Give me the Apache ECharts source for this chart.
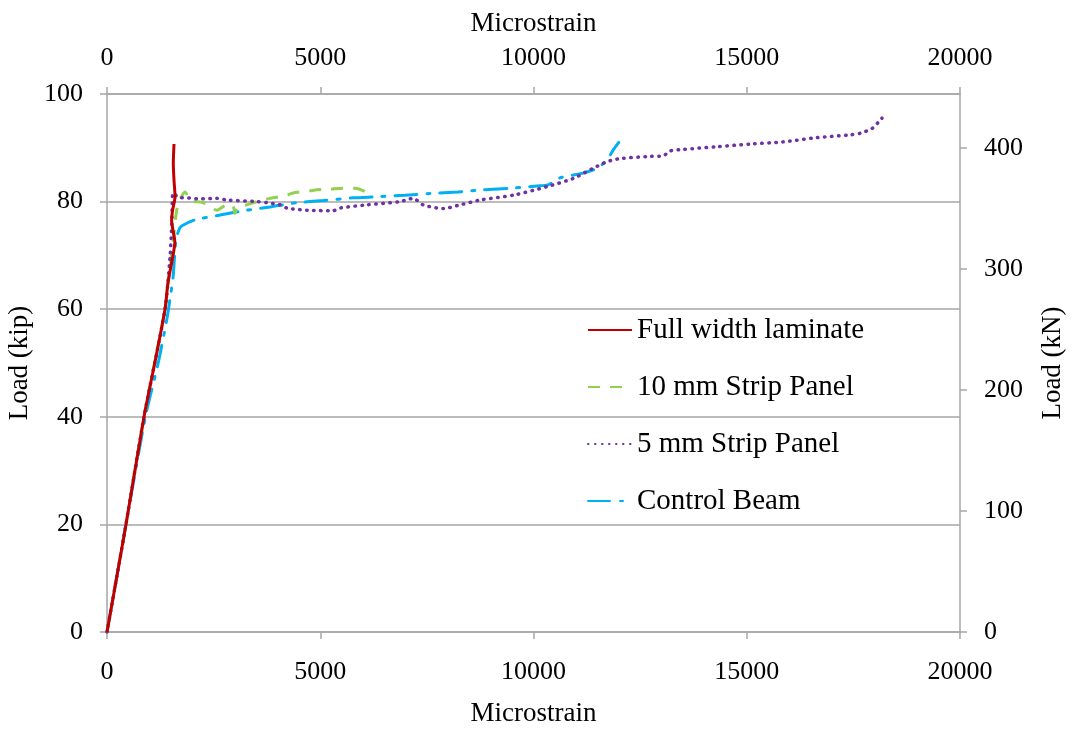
<!DOCTYPE html>
<html>
<head>
<meta charset="utf-8">
<script src="https://cdn.jsdelivr.net/npm/echarts@6/dist/echarts.min.js"></script>
<style>
html,body{margin:0;padding:0;background:#fff;}
#chart{width:1078px;height:729px;}
</style>
</head>
<body>
<div id="chart"></div>
<script>
// Data: [microstrain, load (kip)]
const seriesNames = ['Full width laminate', '10 mm Strip Panel', '5 mm Strip Panel', 'Control Beam'];

const fullWidth = [[0,0],[445,20],[868,40],[1120,50],[1360,60],[1430,65],[1515,68.6],[1590,72.5],[1540,75],[1515,76.5],[1538,78.4],[1595,80.9],[1571,84],[1555,87],[1571,90.7]];

const strip10 = [[0,0],[445,20],[868,40],[1360,60],[1480,68],[1570,74],[1650,79],[1830,81.8],[1950,80.2],[2250,79.8],[2580,78.4],[2810,79.4],[2950,79.3],[3000,77.8],[3050,79],[3280,79.4],[3520,80],[3820,80.6],[4220,81.2],[4360,81.6],[4760,82],[4920,82.2],[5230,82.3],[5530,82.5],[5820,82.5],[6100,81.7]];

const strip5 = [[0,0],[445,20],[868,40],[1360,60],[1480,70],[1520,76],[1550,81.6],[1710,80.7],[1870,80.7],[2180,80.5],[2580,80.6],[2810,80.3],[3520,80],[3750,79.8],[4060,79.4],[4220,78.8],[4700,78.4],[5300,78.3],[5460,78.8],[6100,79.4],[6870,80.0],[7180,80.6],[7410,79.4],[7880,78.7],[8280,79.4],[8750,80.3],[9530,81.2],[10320,82.8],[10930,84.3],[11400,86.2],[11720,87.4],[12030,88.0],[12730,88.4],[13040,88.5],[13200,89.4],[13510,89.7],[14300,90.2],[15080,90.7],[15850,91.1],[16650,91.9],[17420,92.4],[17660,92.7],[17940,93.6],[18080,94.7],[18170,95.5]];

const control = [[0,0],[445,20],[900,40],[1200,50],[1400,58],[1480,62],[1550,66],[1585,70],[1620,73],[1700,75],[1760,75.5],[2060,76.6],[2650,77.5],[3280,78.4],[3820,79],[4450,79.8],[5070,80.2],[5770,80.7],[6330,80.9],[6990,81.2],[7570,81.5],[8230,81.8],[8820,82.2],[9500,82.5],[10080,82.9],[10340,83.1],[10620,84.4],[11160,85.3],[11490,86.2],[11720,87.7],[11870,89.6],[12000,91]];

const xTicks = {min: 0, max: 20000, interval: 5000};
const kipTicks = {min: 0, max: 100, interval: 20};
const kNTicks = {min: 0, max: 444.82, interval: 100};

const FONT = 'Liberation Serif';
const axisColor = '#a6a6a6';
const textStyle = {fontFamily: FONT, fontSize: 26, color: '#000', formatter: v => String(v)};

const chart = echarts.init(document.getElementById('chart'), null, {renderer: 'canvas'});

function xAxisDef(pos) {
  const top = pos === 'top';
  return {
    type: 'value', position: pos,
    min: xTicks.min, max: xTicks.max, interval: xTicks.interval,
    name: 'Microstrain', nameLocation: 'middle', nameGap: top ? 57 : 68,
    nameTextStyle: {fontFamily: FONT, fontSize: 27, color: '#000'},
    axisLine: {show: true, onZero: false, lineStyle: {color: axisColor, width: 1.5}},
    axisTick: {show: true, inside: false, length: 7, lineStyle: {color: axisColor, width: 1.5}},
    axisLabel: Object.assign({margin: top ? 23 : 27}, textStyle),
    splitLine: {show: false}
  };
}

chart.setOption({
  animation: false,
  backgroundColor: '#fff',
  grid: {left: 107, right: 118, top: 94, bottom: 97, containLabel: false, outerBoundsMode: 'none'},
  legend: {
    orient: 'vertical', left: 582, top: 310,
    itemWidth: 44, itemHeight: 14, itemGap: 27,
    itemStyle: {color: 'transparent', borderColor: 'transparent', borderWidth: 0},
    textStyle: {fontFamily: FONT, fontSize: 29, color: '#000', lineHeight: 30},
    data: seriesNames
  },
  xAxis: [xAxisDef('bottom'), xAxisDef('top')],
  yAxis: [
    {
      type: 'value', position: 'left',
      min: kipTicks.min, max: kipTicks.max, interval: kipTicks.interval,
      name: 'Load (kip)', nameLocation: 'middle', nameGap: 72, nameRotate: 90,
      nameTextStyle: {fontFamily: FONT, fontSize: 27, color: '#000'},
      axisLine: {show: true, onZero: false, lineStyle: {color: axisColor, width: 1.5}},
      axisTick: {show: true, length: 7, lineStyle: {color: axisColor, width: 1.5}},
      axisLabel: Object.assign({margin: 24}, textStyle),
      splitLine: {show: true, lineStyle: {color: axisColor, width: 1.5}}
    },
    {
      type: 'value', position: 'right',
      min: kNTicks.min, max: kNTicks.max, interval: kNTicks.interval,
      name: 'Load (kN)', nameLocation: 'middle', nameGap: 79, nameRotate: 90,
      nameTextStyle: {fontFamily: FONT, fontSize: 27, color: '#000'},
      axisLine: {show: true, onZero: false, lineStyle: {color: axisColor, width: 1.5}},
      axisTick: {show: true, length: 7, lineStyle: {color: axisColor, width: 1.5}},
      axisLabel: Object.assign({margin: 24, showMaxLabel: false}, textStyle),
      splitLine: {show: false}
    }
  ],
  series: [
    {name: seriesNames[0], type: 'line', data: fullWidth, symbol: 'none', smooth: 0.25, z: 5,
     lineStyle: {color: '#C00000', width: 3}, itemStyle: {color: '#C00000'}},
    {name: seriesNames[1], type: 'line', data: strip10, symbol: 'none', smooth: 0.25, z: 3,
     lineStyle: {color: '#92D050', width: 3, type: [12, 10]}, itemStyle: {color: '#92D050'}},
    {name: seriesNames[2], type: 'line', data: strip5, symbol: 'none', smooth: 0.25, z: 4,
     lineStyle: {color: '#7030A0', width: 3.5, type: [0.5, 6.5], cap: 'round'}, itemStyle: {color: '#7030A0'}},
    {name: seriesNames[3], type: 'line', data: control, symbol: 'none', smooth: 0.25, z: 2,
     lineStyle: {color: '#00B0F0', width: 3, type: [22, 10, 3, 10], cap: 'round'}, itemStyle: {color: '#00B0F0'}}
  ]
});
</script>
</body>
</html>
